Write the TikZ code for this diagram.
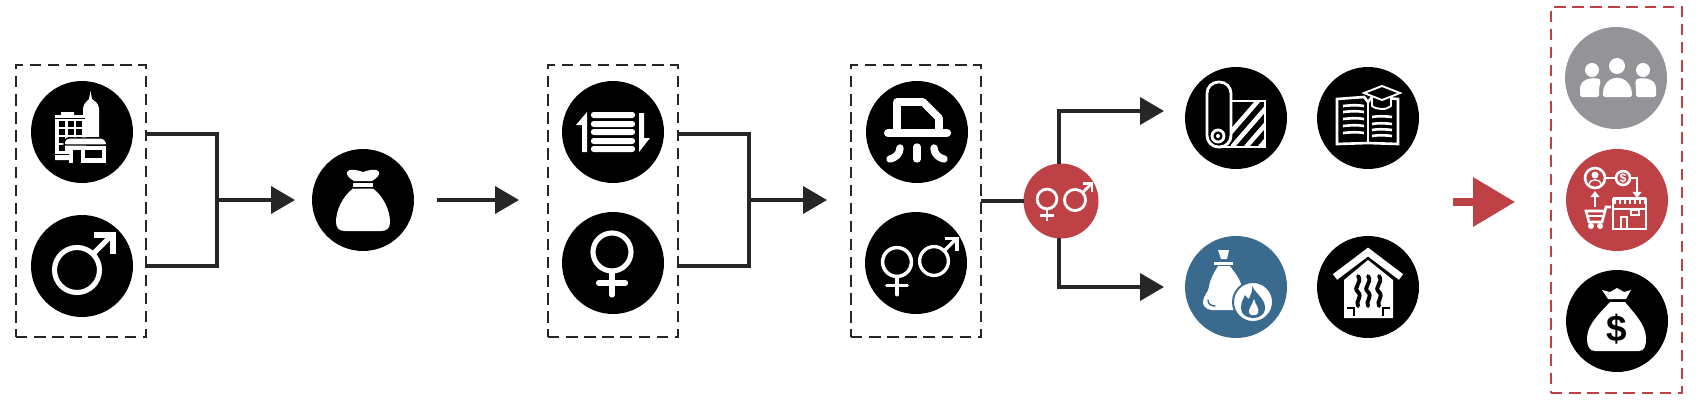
\documentclass[tikz,border=0pt]{standalone}
\usepackage{fontspec}
\setsansfont{Liberation Sans}
\usepackage{xcolor}
\usepackage{tikz}
\usetikzlibrary{positioning,calc,arrows.meta}
\definecolor{wireblk}{HTML}{262626}
\definecolor{accentred}{HTML}{bd4145}
\definecolor{accentblue}{HTML}{3a6b8e}
\definecolor{accentgray}{HTML}{949398}
\tikzset{
  iconcirc/.style={circle, fill=black, minimum size=2.04cm, inner sep=0pt, outer sep=0pt},
  dashbox/.style={draw=wireblk, line width=1.1pt, dash pattern=on 6.5pt off 3.8pt, minimum width=2.6cm, minimum height=5.44cm, inner sep=0pt, outer sep=0pt},
  redbox/.style={dashbox, draw=accentred, minimum width=2.62cm, minimum height=7.72cm},
  wire/.style={draw=wireblk, line width=2.2pt},
  arrowwire/.style={wire, -{Triangle[length=13.6pt,width=15.3pt]}},
  redarrow/.style={draw=accentred, line width=4pt, -{Triangle[length=23.8pt,width=27.2pt]}},
  wline/.style={draw=white, line width=1.5pt},
  wround/.style={draw=white, line width=2.4pt, line cap=round, line join=round},
  wthin/.style={draw=white, line width=0.8pt},
  dollar/.style={font=\sffamily\bfseries, inner sep=0pt},
  femalesign/.pic={
    \draw (0,0) circle[radius=19];
    \draw (0,19) -- (0,43);
    \draw (-13.5,31) -- (13.5,31);
  },
  malesign/.pic={
    \draw (0,0) circle[radius=22.5];
    \draw (16,-16) -- (35,-35);
    \draw[line join=miter] (17,-35) -- (36,-35) -- (36,-16);
  },
}

\begin{document}
\begin{tikzpicture}[x=0.02cm, y=-0.02cm]
  \useasboundingbox (0,0) rectangle (1700,406);

  % Dashed groups
  \node[dashbox] (boxA) at (81,201) {};
  \node[dashbox] (boxB) at (613,201) {};
  \node[dashbox] (boxC) at (916,201) {};
  \node[redbox] (boxD) at (1616.5,200) {};

  % Circles
  \node[iconcirc] (circCity) at (82,132) {};
  \node[iconcirc] (circMale) at (82,266) {};
  \node[iconcirc] (circBag) at (363,200) {};
  \node[iconcirc] (circList) at (613,132) {};
  \node[iconcirc] (circFemale) at (613,263) {};
  \node[iconcirc] (circHood) at (917,132) {};
  \node[iconcirc] (circBoth) at (916,263) {};
  \node[iconcirc, fill=accentred, minimum size=1.5cm] (circSplit) at (1061,201) {};
  \node[iconcirc] (circRoll) at (1236,118) {};
  \node[iconcirc] (circBook) at (1368,118) {};
  \node[iconcirc, fill=accentblue] (circFuel) at (1236,287) {};
  \node[iconcirc] (circHouse) at (1368,287) {};
  \node[iconcirc, fill=accentgray] (circPeople) at (1616,78) {};
  \node[iconcirc, fill=accentred] (circShop) at (1617,200) {};
  \node[iconcirc] (circMoney) at (1617,321) {};

  % Free ends of the connectors
  \coordinate (tapA1) at (146,134);
  \coordinate (tapA2) at (146,266);
  \coordinate (joinA) at (217,200);
  \coordinate (endA) at (295,200);
  \coordinate (startB) at (437,200);
  \coordinate (endB) at (519,200);
  \coordinate (tapB1) at (678,134);
  \coordinate (tapB2) at (678,266);
  \coordinate (joinB) at (749,200);
  \coordinate (endC) at (827,200);
  \coordinate (endT) at (1164,111);
  \coordinate (endU) at (1164,287);
  \coordinate (startR) at (1453,202);
  \coordinate (endR) at (1515,202);

  % Connectors
  \draw[wire] (tapA1) -| (joinA) |- (tapA2);
  \draw[arrowwire] (joinA) -- (endA);
  \draw[arrowwire] (startB) -- (endB);
  \draw[wire] (tapB1) -| (joinB) |- (tapB2);
  \draw[arrowwire] (joinB) -- (endC);
  \draw[wire] (boxC.east) -- (circSplit.west);
  \draw[arrowwire] ($(circSplit.north)+(-2,0)$) |- (endT);
  \draw[arrowwire] ($(circSplit.south)+(-2,0)$) |- (endU);
  \draw[redarrow] (startR) -- (endR);

  % City icon
  \begin{scope}[shift={(circCity)}]
    \fill[white] (1,5) -- (1,-24) .. controls (2,-29) and (5,-31) .. (7,-33) -- (8.5,-41) -- (10,-33) .. controls (13,-31) and (16,-29) .. (17,-24) -- (17,5) -- cycle;
    \fill[white] (-27,-17) -- (-21,-17) -- (-21,-20) -- (-8,-20) -- (-8,-17) -- (4,-17) -- (4,28) -- (-27,28) -- cycle;
    \draw[black, line width=0.5pt] (-27,-14) -- (3,-14) (-27,22) -- (-12,22);
    \foreach \wx in {-23,-14,-6} \foreach \wy in {-11,-3,5} \fill[black] (\wx,\wy) rectangle +(5.5,5.5);
    \fill[black] (-23,13) rectangle +(5.5,5.5);
    \fill[white, draw=black, line width=0.8pt, rounded corners=1.5pt] (-16,6) -- (22,6) -- (26,13) -- (-19,13) -- cycle;
    \fill[white] (-13,14) rectangle (24,31);
    \fill[black] (-9,18) rectangle (-1,31);
    \fill[black] (3,18) rectangle (20,26);
  \end{scope}

  % Male icon
  \pic[draw=white, line width=2.9pt] at ($(circMale)+(-5,4)$) {malesign};

  % Sack icon
  \begin{scope}[shift={(circBag)}]
    \fill[white] (-9,-19) .. controls (-14,-22) and (-17,-25) .. (-16,-28) .. controls (-14,-32) and (-6,-30) .. (0,-28) .. controls (6,-30) and (14,-32) .. (16,-28) .. controls (17,-25) and (14,-22) .. (9,-19) -- cycle;
    \fill[white] (-10,-17) rectangle (10,-13);
    \fill[white] (-10,-11.5) -- (10,-11.5) .. controls (20,-4) and (27,10) .. (27,22) .. controls (27,28) and (24,31) .. (18,31) -- (-18,31) .. controls (-24,31) and (-27,28) .. (-27,22) .. controls (-27,10) and (-20,-4) .. (-10,-11.5) -- cycle;
  \end{scope}

  % List icon
  \begin{scope}[shift={(circList)}]
    \foreach \ly in {-20,-11,-3,6,14}
      \fill[white, rounded corners=1.5pt] (-22,\ly) rectangle (22,\ly+6);
    \fill[white] (-26,20) -- (-31,20) -- (-31,-7) -- (-37,-7) -- (-26,-20) -- cycle;
    \fill[white] (26,-19) -- (31,-19) -- (31,6) -- (37,6) -- (26,20) -- cycle;
  \end{scope}

  % Female icon
  \pic[draw=white, line width=2.9pt, line cap=round] at ($(circFemale)+(-1,-11)$) {femalesign};

  % Hood icon
  \begin{scope}[shift={(circHood)}]
    \draw[wround, line width=4.4pt] (-20,0) -- (-20,-30) -- (6,-30) -- (22,-14) -- (22,0);
    \draw[wround, line width=4.6pt] (-29,1) -- (30,1);
    \draw[wround, line width=4.2pt] (0,15) -- (0,27);
    \draw[wround, line width=4.2pt] (-17,16) .. controls (-17,22) and (-22,26) .. (-27,27);
    \draw[wround, line width=4.2pt] (17,16) .. controls (17,22) and (22,26) .. (27,27);
  \end{scope}

  % Both signs icon
  \pic[draw=white, line width=2pt, line cap=round, scale=0.76] at ($(circBoth)+(-19,-1)$) {femalesign};
  \pic[draw=white, line width=1.9pt, scale=0.64] at ($(circBoth)+(18,-2)$) {malesign};

  % Split icon
  \pic[draw=white, line width=1.6pt, scale=0.52] at ($(circSplit)+(-14,-2)$) {femalesign};
  \pic[draw=white, line width=1.6pt, scale=0.47] at ($(circSplit)+(14,-1)$) {malesign};

  % Roll icon
  \begin{scope}[shift={(circRoll)}]
    \draw[wline, line width=1.6pt, rounded corners=6.5pt] (-29,-36) rectangle (-5,29);
    \draw[wline, line width=1.6pt] (-5,-17) -- (29,-17) -- (29,29) -- (-18,29);
    \draw[wline, line width=1.6pt] (-18,18) circle[radius=6];
    \fill[white] (-18,18) circle[radius=2];
    \begin{scope}
      \clip (-5,-17) rectangle (29,29);
      \foreach \sx in {-18,-4,10,24,38}
        \draw[white, line width=2.6pt] (\sx,29) -- (\sx+46,-24);
    \end{scope}
  \end{scope}

  % Book icon
  \begin{scope}[shift={(circBook)}]
    \draw[wline] (-31,-19) -- (-4,-21) -- (0,-16) -- (4,-21) -- (30,-19) -- (30,26) -- (0,25) -- (-31,26) -- cycle;
    \draw[wline] (0,-16) -- (0,25);
    \foreach \by in {-12,-6,1,8,15}
      \draw[wline] (-25,\by) .. controls (-15,\by-1) and (-10,\by-1) .. (-4,\by);
    \foreach \by in {-1,6,12,18}
      \draw[wline] (4,\by) .. controls (10,\by-1) and (15,\by-1) .. (24,\by);
    \filldraw[fill=black, draw=white, line width=1.1pt] (4,-22) -- (4,-12) .. controls (9,-8) and (19,-8) .. (23,-12) -- (23,-22) -- cycle;
    \filldraw[fill=black, draw=white, line width=1.1pt] (14,-32) -- (32,-25) -- (14,-18) -- (-4,-25) -- cycle;
  \end{scope}

  % Fuel bag icon
  \begin{scope}[shift={(circFuel)}]
    \fill[white] (-18,-37) -- (-7,-37) -- (-9,-28) -- (-15,-28) -- cycle;
    \fill[white] (-22,-25.5) rectangle (-3,-22.5);
    \fill[white] (-18,-21) -- (-6,-21) .. controls (-2,-15) and (3,-10) .. (5,-3) -- (10,23) -- (-20,23) .. controls (-25,24) and (-33,22) .. (-33,15) .. controls (-33,9) and (-28,6) .. (-27,0) .. controls (-26,-8) and (-22,-14) .. (-18,-21) -- cycle;
    \draw[accentblue, line width=0.8pt, line cap=round] (-28,13) .. controls (-28,17) and (-25,19) .. (-21,19);
    \filldraw[fill=white, draw=accentblue, line width=1.1pt] (17,15) circle[radius=20];
    \fill[accentblue] (16,-1) .. controls (19,6) and (30,12) .. (29,22) .. controls (28,29) and (22,31) .. (17,31) .. controls (10,31) and (5,27) .. (5,21) .. controls (5,14) and (8,11) .. (9,8) .. controls (11,11) and (12,11) .. (13,12) .. controls (14,8) and (17,5) .. (16,-1) -- cycle;
    \fill[white] (18,12) .. controls (19,18) and (24,21) .. (22,26) .. controls (21,29) and (14,29) .. (13,26) .. controls (12,22) and (16,19) .. (18,12) -- cycle;
  \end{scope}

  % House icon
  \begin{scope}[shift={(circHouse)}]
    \draw[white, line width=4pt, line join=miter] (-33,-10) -- (0,-35) -- (33,-10);
    \fill[white] (0,-27) -- (-24,-7) -- (-24,31) -- (25,31) -- (25,-7) -- cycle;
    \foreach \hx in {-10,0,11}
      \draw[black, line width=2.2pt, line cap=round] (\hx,-11) .. controls (\hx+5,-4) and (\hx-6,0) .. (\hx,5) .. controls (\hx+5,10) and (\hx-3,14) .. (\hx,19);
    \draw[black, line width=1pt] (-21,21) -- (-14,21) -- (-14,29);
    \draw[black, line width=1pt] (22,21) -- (15,21) -- (15,29);
  \end{scope}

  % People icon
  \begin{scope}[shift={(circPeople)}]
    \fill[white] (1,-12) circle[radius=8];
    \fill[white] (-24,-8) circle[radius=7];
    \fill[white] (27,-8) circle[radius=7];
    \fill[white, rounded corners=1pt] (-13,19) .. controls (-14,-6) and (16,-6) .. (16,19) -- cycle;
    \fill[white, rounded corners=1pt] (-36,19) -- (-36,12) .. controls (-36,-1) and (-18,-1) .. (-15,3) .. controls (-17,8) and (-17,13) .. (-17,19) -- cycle;
    \fill[white, rounded corners=1pt] (40,19) -- (40,12) .. controls (40,-1) and (23,-1) .. (19,3) .. controls (20,8) and (20,13) .. (20,19) -- cycle;
  \end{scope}

  % Shop icon
  \begin{scope}[shift={(circShop)}]
    \draw[wline] (-22,-22) circle[radius=10];
    \fill[white] (-22,-25) circle[radius=3.5];
    \draw[wthin] (-28,-15) .. controls (-28,-22) and (-16,-22) .. (-16,-15);
    \draw[wline] (6,-22) circle[radius=7];
    \node[dollar, white, font=\sffamily\bfseries\scriptsize] (dollarShop) at (6,-22) {\$};
    \draw[wline] (-12,-22) -- (-1,-22);
    \draw[wline, -{Triangle[length=3.5pt,width=5pt]}] (13,-22) -- (20,-22) -- (20,-2);
    \draw[wline, -{Triangle[length=3.5pt,width=5pt]}] (-22,7) -- (-22,-9);
    \draw[wline] (-4,-1) rectangle (29,29);
    \fill[white] (-4,-3) rectangle (29,4);
    \foreach \sx in {-1,4,9,14,19,24}
      \fill[accentred] (\sx,0) rectangle +(2.5,3.5);
    \draw[wline] (-4,9) -- (29,9);
    \draw[wline] (4,29) -- (4,17) -- (10,17) -- (10,29);
    \draw[wline] (14,10) rectangle (22,15);
    \draw[wline] (-6,7) -- (-11,7) -- (-15,22) -- (-28,22) -- (-31,11) -- (-13,11);
    \draw[wthin] (-29.5,16) -- (-14,16);
    \fill[white] (-26,26) circle[radius=3];
    \fill[white] (-17,26) circle[radius=3];
  \end{scope}

  % Money bag icon
  \begin{scope}[shift={(circMoney)}]
    \fill[white] (-15,-31) -- (-7,-29) -- (0,-33) -- (7,-29) -- (14,-31) -- (9,-22) -- (-9,-22) -- cycle;
    \fill[white] (-7,-19) -- (8,-19) .. controls (15,-10) and (29,3) .. (29,17) .. controls (29,26) and (27,30) .. (22,30) -- (-22,30) .. controls (-27,30) and (-30,26) .. (-30,17) .. controls (-30,3) and (-15,-10) .. (-7,-19) -- cycle;
    \node[dollar, black, font=\sffamily\bfseries\fontsize{21pt}{21pt}\selectfont] (dollarMoney) at (0,8) {\$};
  \end{scope}
\end{tikzpicture}
\end{document}
